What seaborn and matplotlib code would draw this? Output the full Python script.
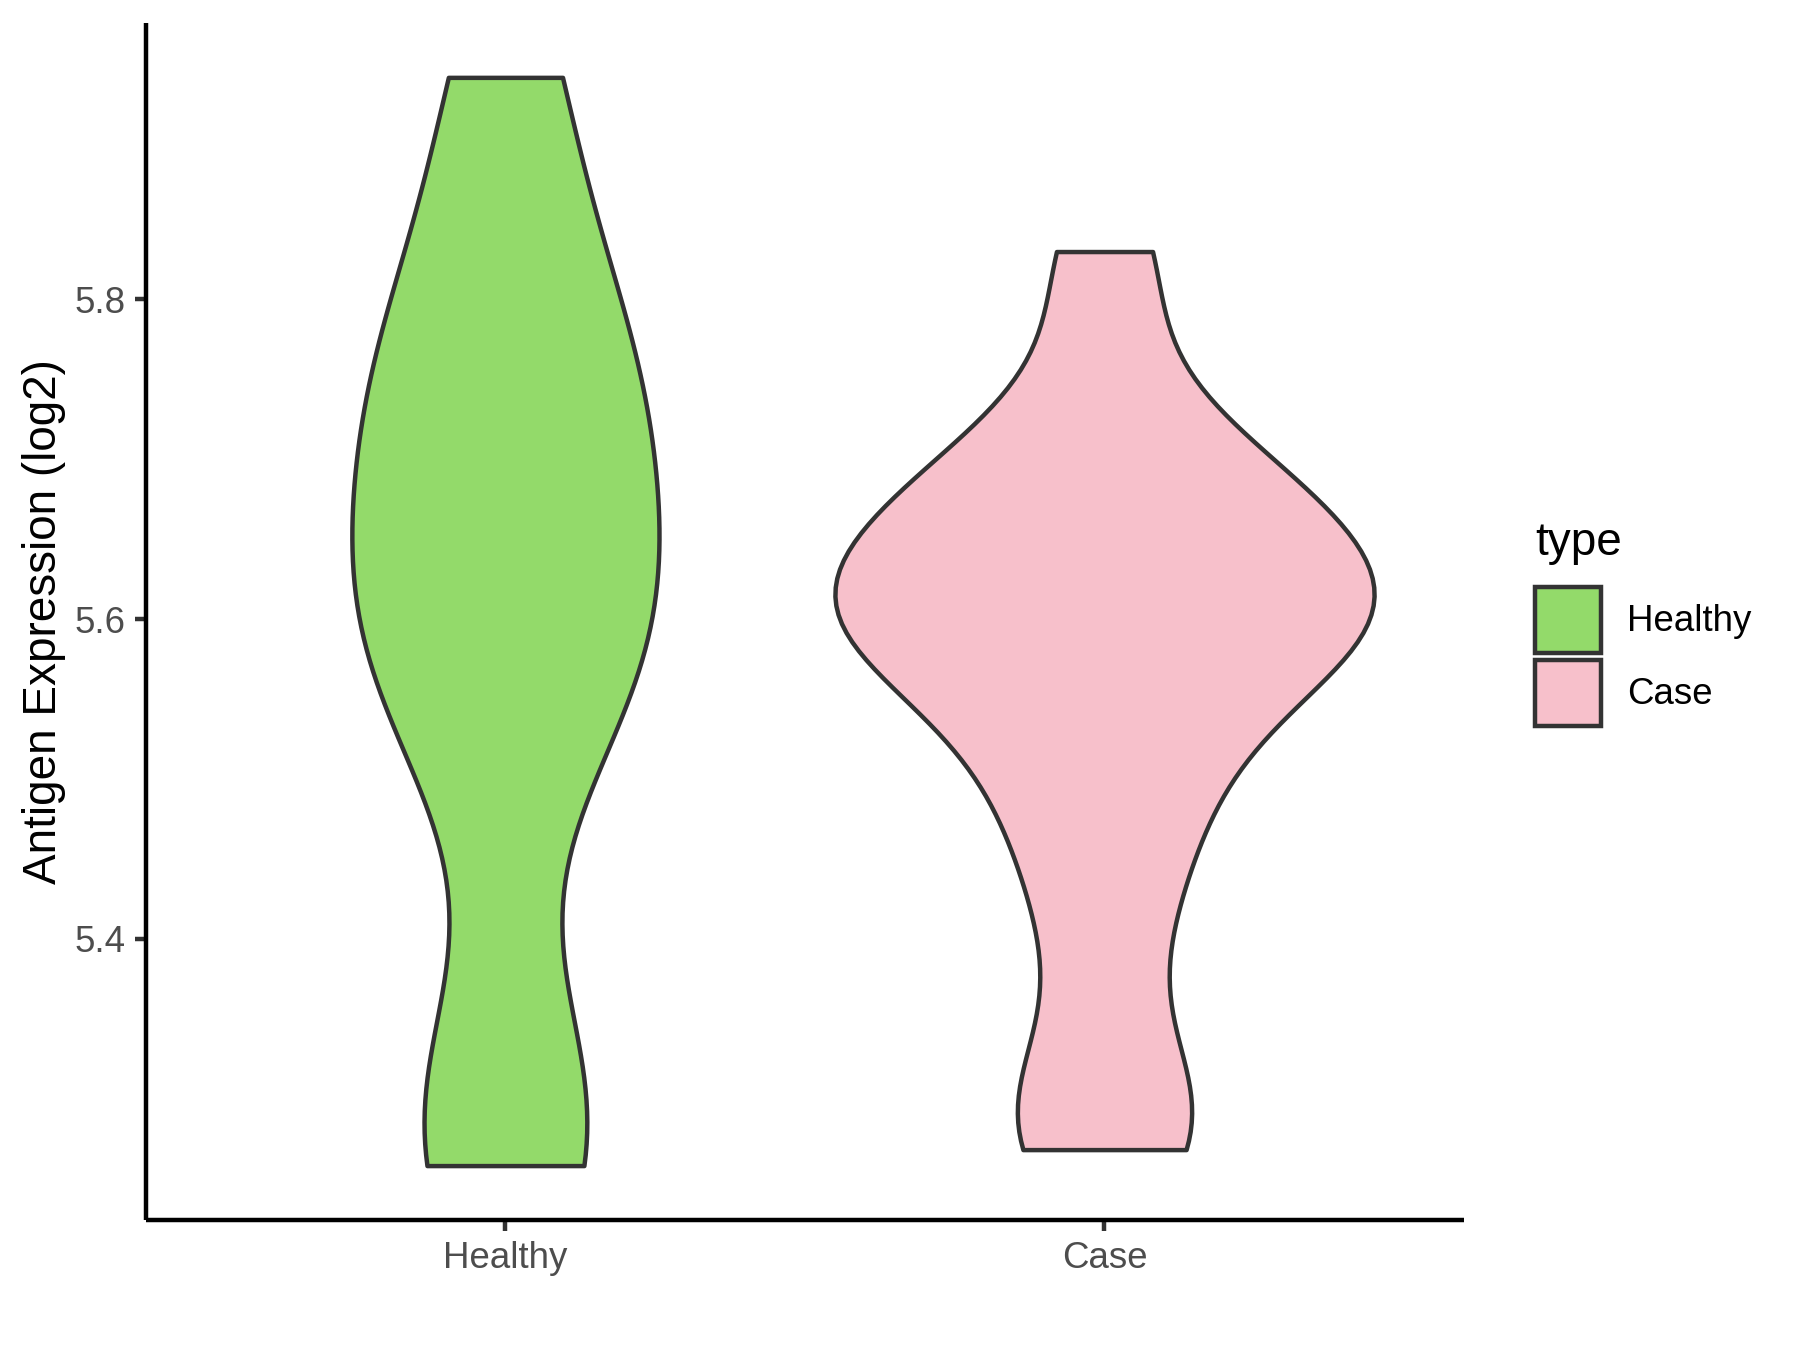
import numpy as np
import pandas as pd
import matplotlib
matplotlib.use("Agg")
import matplotlib.pyplot as plt
import seaborn as sns
from matplotlib.patches import Patch

# ---- data ----
categories = ["Healthy", "Case"]
healthy_values = [5.258, 5.258, 5.268, 5.308, 5.310, 5.501, 5.542, 5.576, 5.582, 5.597, 5.599,
                  5.638, 5.639, 5.701, 5.723, 5.753, 5.761, 5.761, 5.788, 5.865, 5.939, 5.939]
case_values = [5.268, 5.280, 5.281, 5.322, 5.422, 5.423, 5.504, 5.505, 5.505, 5.588, 5.589,
               5.590, 5.592, 5.595, 5.601, 5.606, 5.610, 5.619, 5.654, 5.667, 5.686, 5.686,
               5.690, 5.701, 5.808, 5.830]
y_ticks = [5.4, 5.6, 5.8]
y_tick_labels = ["5.4", "5.6", "5.8"]
y_label = "Antigen Expression (log2)"
legend_title = "type"

colors = {"Healthy": "#93DA6A", "Case": "#F7C0CB"}
EDGE = "#333333"
LW = 1.07

df = pd.DataFrame({
    "type": ["Healthy"] * len(healthy_values) + ["Case"] * len(case_values),
    "value": healthy_values + case_values,
})


def nrd0(kde):
    """R's default bandwidth (bw.nrd0), returned as a gaussian_kde factor."""
    x = np.asarray(kde.dataset).ravel()
    sd = np.std(x, ddof=1)
    q75, q25 = np.percentile(x, [75, 25])
    h = 0.9 * min(sd, (q75 - q25) / 1.34) * len(x) ** -0.2
    return h / sd


plt.rcParams["font.family"] = ["Liberation Sans", "DejaVu Sans"]

fig = plt.figure(figsize=(6, 4.5), dpi=300)
ax = fig.add_axes([0.0811, 0.0963, 0.7322, 0.8867])

sns.violinplot(data=df, x="type", y="value", hue="type", order=categories,
               hue_order=categories, palette=colors, saturation=1, inner=None,
               cut=0, bw_method=nrd0, density_norm="area", common_norm=True,
               width=0.9, linewidth=LW, linecolor=EDGE, legend=False, ax=ax)

vals = df["value"]
pad = 0.05 * (vals.max() - vals.min())
ax.set_ylim(vals.min() - pad, vals.max() + pad)
ax.set_xlim(-0.6, len(categories) - 0.4)
ax.set_yticks(y_ticks)
ax.set_yticklabels(y_tick_labels)

for s in ["top", "right"]:
    ax.spines[s].set_visible(False)
for s in ["left", "bottom"]:
    ax.spines[s].set_linewidth(LW)
    ax.spines[s].set_color("black")
    ax.spines[s].set_capstyle("butt")

ax.tick_params(axis="both", length=2.75, width=LW, color=EDGE,
               labelsize=8.8, labelcolor="#4D4D4D", pad=2.2)
ax.set_xlabel("")
ax.set_ylabel(y_label, fontsize=11, color="black", labelpad=2)

handles = [Patch(facecolor=colors[c], edgecolor=EDGE, linewidth=LW, label=c)
           for c in categories]
leg = fig.legend(handles=handles, title=legend_title, loc="upper left",
                 bbox_to_anchor=(0.853, 0.614), frameon=False, fontsize=8.8,
                 title_fontsize=11, handlelength=1.8, handleheight=2.39,
                 handletextpad=0.7, labelspacing=0.2, borderpad=0,
                 borderaxespad=0, alignment="left")
# extra space between the legend title and its keys (as in ggplot)
try:
    leg._legend_box.sep = 0.2 * 8.8 + 3.4
except Exception:
    pass

fig.savefig("out.png", dpi=300)
